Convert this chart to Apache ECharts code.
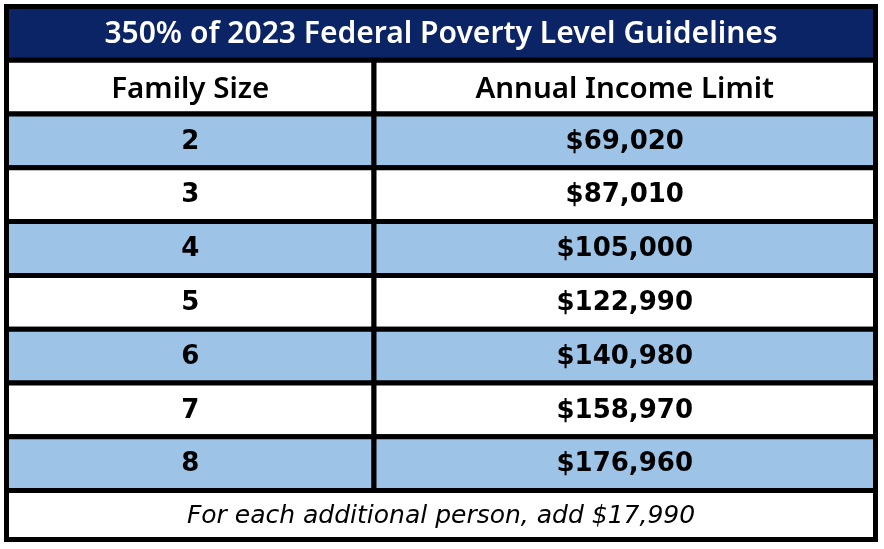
<!DOCTYPE html>
<html>
<head>
<meta charset="utf-8">
<script src="https://cdn.jsdelivr.net/npm/echarts@6/dist/echarts.min.js"></script>
<style>
html,body{margin:0;padding:0;background:#fff;}
#chart{width:884px;height:549px;}
</style>
</head>
<body>
<div id="chart"></div>
<script>
// ---- data ----
const title = '350% of 2023 Federal Poverty Level Guidelines';
const headers = ['Family Size', 'Annual Income Limit'];
const familySizes = ['2', '3', '4', '5', '6', '7', '8'];
const incomeLimits = [69020, 87010, 105000, 122990, 140980, 158970, 176960];
const additionalPerson = 17990;
const footnote = 'For each additional person, add $' + additionalPerson.toLocaleString('en-US');

// ---- layout / style ----
const NOTO = '"Noto Sans", sans-serif';
const DEJAVU = '"DejaVu Sans", sans-serif';
const NAVY = '#0B2466';
const BLUE = '#9DC3E6';
const LINE = 5;
const colSplit = 0.4229;
const fmt = v => '$' + v.toLocaleString('en-US');

const rowNames = ['title', 'header'].concat(familySizes);

// cell items: [x0, x1, rowIndex, text, kind]
const cells = [];
cells.push([0, 1, 0, title, 'title']);
cells.push([0, colSplit, 1, headers[0], 'header']);
cells.push([colSplit, 1, 1, headers[1], 'header']);
familySizes.forEach((s, i) => {
  const kind = i % 2 === 0 ? 'blue' : 'white';
  cells.push([0, colSplit, i + 2, s, kind]);
  cells.push([colSplit, 1, i + 2, fmt(incomeLimits[i]), kind]);
});

const fonts = {
  title: '600 30px ' + NOTO,
  header: '600 29.5px ' + NOTO,
  blue: 'bold 26px ' + DEJAVU,
  white: 'bold 26px ' + DEJAVU
};
const textDy = {title: 1, header: 2.5, blue: 1, white: 1};

const chart = echarts.init(document.getElementById('chart'));
chart.setOption({
  animation: false,
  grid: {left: 6.5, right: 8.5, top: 6.5, bottom: 58.5},
  xAxis: {type: 'value', min: 0, max: 1, show: false},
  yAxis: {type: 'category', data: rowNames, inverse: true, show: false},
  series: [{
    type: 'custom',
    data: cells,
    renderItem: function (params, api) {
      const x0 = api.value(0), x1 = api.value(1), r = api.value(2);
      const item = cells[params.dataIndex];
      const kind = item[4];
      const p0 = api.coord([x0, r]);
      const p1 = api.coord([x1, r]);
      const h = api.size([0, 1])[1];
      const fill = kind === 'title' ? NAVY : (kind === 'blue' ? BLUE : '#ffffff');
      return {
        type: 'group',
        children: [{
          type: 'rect',
          shape: {x: p0[0], y: p0[1] - h / 2, width: p1[0] - p0[0], height: h},
          style: {fill: fill, stroke: '#000', lineWidth: LINE}
        }, {
          type: 'text',
          x: (p0[0] + p1[0]) / 2,
          y: p0[1] + textDy[kind],
          style: {
            text: item[3],
            fill: kind === 'title' ? '#ffffff' : '#000000',
            font: fonts[kind],
            align: 'center',
            verticalAlign: 'middle'
          }
        }]
      };
    }
  }],
  graphic: [{
    type: 'rect',
    shape: {x: 6.5, y: 490.5, width: 869, height: 49},
    style: {fill: '#ffffff', stroke: '#000', lineWidth: LINE}
  }, {
    type: 'text',
    x: 441, y: 516,
    style: {
      text: footnote,
      fill: '#000',
      font: 'oblique 25px ' + DEJAVU,
      align: 'center',
      verticalAlign: 'middle'
    }
  }]
});
</script>
</body>
</html>
